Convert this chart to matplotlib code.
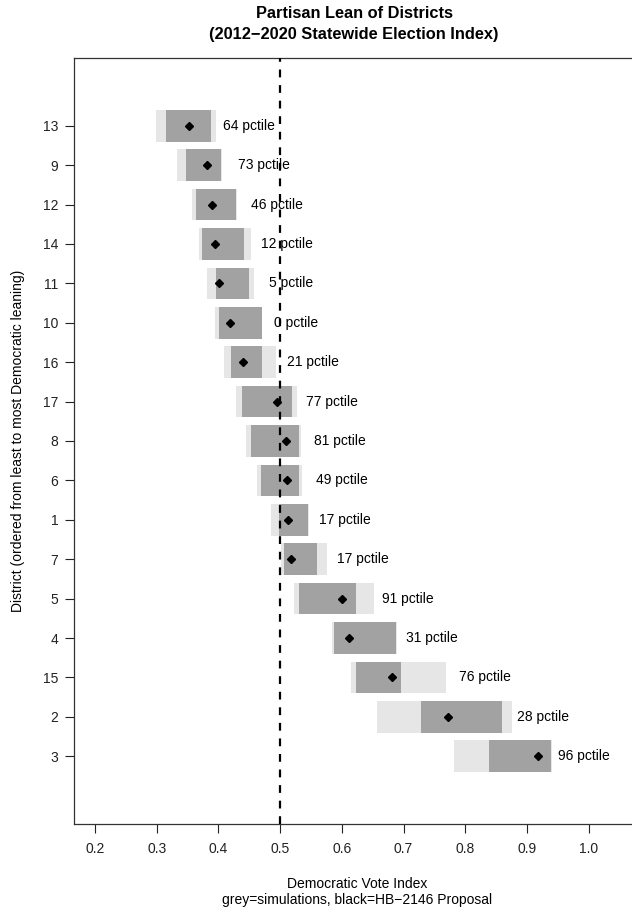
import matplotlib
matplotlib.use("Agg")
import matplotlib.pyplot as plt

plt.rcParams['font.family'] = ['Liberation Sans', 'DejaVu Sans']

# Districts, top to bottom
districts = ["13", "9", "12", "14", "11", "10", "16", "17", "8", "6", "1", "7", "5", "4", "15", "2", "3"]
# Full extent of simulated values (sparse tails)
sim_lo = [0.299, 0.333, 0.357, 0.369, 0.382, 0.395, 0.409, 0.429, 0.445, 0.463, 0.485, 0.502, 0.523, 0.584, 0.615, 0.657, 0.782]
sim_hi = [0.396, 0.406, 0.430, 0.453, 0.458, 0.471, 0.493, 0.527, 0.534, 0.536, 0.547, 0.576, 0.652, 0.690, 0.769, 0.876, 0.941]
# Dense core of simulated values
core_lo = [0.315, 0.348, 0.364, 0.373, 0.396, 0.401, 0.421, 0.438, 0.453, 0.469, 0.498, 0.506, 0.531, 0.587, 0.623, 0.729, 0.839]
core_hi = [0.388, 0.404, 0.429, 0.442, 0.450, 0.471, 0.471, 0.519, 0.531, 0.531, 0.545, 0.560, 0.623, 0.688, 0.696, 0.860, 0.939]
# HB-2146 proposal values
proposal = [0.352, 0.382, 0.390, 0.395, 0.401, 0.419, 0.440, 0.495, 0.510, 0.511, 0.513, 0.518, 0.600, 0.612, 0.681, 0.772, 0.918]
# Percentile of the proposal among simulations
pctile = [64, 73, 46, 12, 5, 0, 21, 77, 81, 49, 17, 17, 91, 31, 76, 28, 96]
label_x = [0.408, 0.432, 0.453, 0.469, 0.482, 0.490, 0.511, 0.542, 0.555, 0.558, 0.563, 0.592, 0.665, 0.704, 0.790, 0.884, 0.951]

n = len(districts)
ypos = [n - i for i in range(n)]

fig = plt.figure(figsize=(6.32, 9.13), dpi=100)
W, H = 632, 913
ax = fig.add_axes([74.3 / W, 1 - 824 / H, (634 - 74.3) / W, (824 - 58) / H])

h = 0.8
ax.barh(ypos, [b - a for a, b in zip(sim_lo, sim_hi)], left=sim_lo, height=h,
        color='#e6e6e6', edgecolor='none', zorder=1)
ax.barh(ypos, [b - a for a, b in zip(core_lo, core_hi)], left=core_lo, height=h,
        color='#a2a2a2', edgecolor='none', zorder=2)
ax.plot(proposal, ypos, linestyle='none', marker='D', markersize=4.2,
        color='black', zorder=4)
for x, y, p in zip(label_x, ypos, pctile):
    ax.text(x, y, f"{p} pctile", ha='left', va='center', fontsize=10, zorder=5)

ax.axvline(0.5, color='black', linewidth=1.6, linestyle=(0, (3.5, 3.5)), zorder=3)

ax.set_xlim(0.1664, 1.0736)
ax.set_ylim(-0.72, 18.72)
ax.set_xticks([0.2, 0.3, 0.4, 0.5, 0.6, 0.7, 0.8, 0.9, 1.0])
ax.set_xticklabels(["0.2", "0.3", "0.4", "0.5", "0.6", "0.7", "0.8", "0.9", "1.0"])
ax.set_yticks(ypos)
ax.set_yticklabels(districts)
ax.tick_params(axis='x', length=6.5, width=0.8, pad=6.8, labelsize=10, colors='#222222')
ax.tick_params(axis='y', length=6.5, width=0.8, pad=5, labelsize=10, colors='#222222')
for s in ax.spines.values():
    s.set_linewidth(0.9)
    s.set_color('#333333')
ax.spines['right'].set_visible(False)

fig.text(354 / W, 1 - 14 / H, "Partisan Lean of Districts", ha='center', va='center',
         fontsize=11.8, fontweight='bold')
fig.text(354 / W, 1 - 35 / H, "(2012\u22122020 Statewide Election Index)", ha='center', va='center',
         fontsize=11.8, fontweight='bold')
fig.text(357 / W, 1 - 884 / H, "Democratic Vote Index", ha='center', va='center', fontsize=10)
fig.text(357 / W, 1 - 900 / H, "grey=simulations, black=HB\u22122146 Proposal", ha='center',
         va='center', fontsize=10)
fig.text(18 / W, 1 - 441 / H, "District (ordered from least to most Democratic leaning)",
         ha='center', va='center', rotation=90, fontsize=10)

fig.savefig("out.png", dpi=100)
